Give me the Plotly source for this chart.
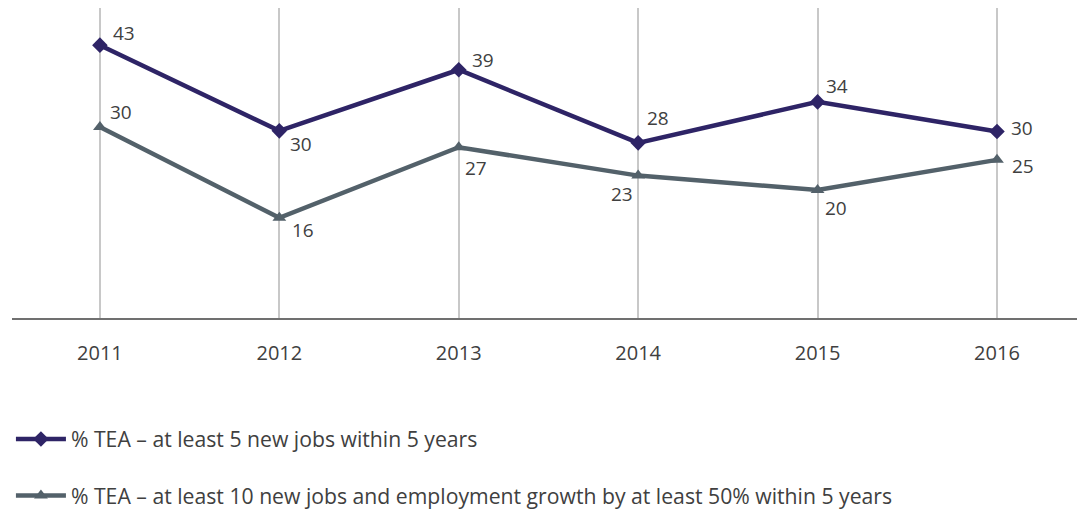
import plotly.graph_objects as go

years = ["2011", "2012", "2013", "2014", "2015", "2016"]
s1_name = "% TEA – at least 5 new jobs within 5 years"
s1_vals = [43.3, 29.7, 39.4, 27.8, 34.3, 29.6]
s2_name = "% TEA – at least 10 new jobs and employment growth by at least 50% within 5 years"
s2_vals = [30.3, 15.9, 27.1, 22.6, 20.3, 25.1]

# label offsets (pixels) relative to each point
s1_dx = [24, 22, 24, 20, 19, 25]
s1_dy = [12, -13, 10, 25, 16, 4]
s2_dx = [21, 24, 17, -16, 18, 26]
s2_dy = [15, -12, -21, -18, -18, -6]

c1 = "#2E2466"
c2 = "#53616A"
txt = "#404040"
font = "Open Sans"

fig = go.Figure()
fig.add_trace(go.Scatter(
    x=years, y=s1_vals, name=s1_name, mode="lines+markers",
    line=dict(color=c1, width=4.5), marker=dict(symbol="diamond", size=12, color=c1),
    legendgroup="a", cliponaxis=False,
))
fig.add_trace(go.Scatter(
    x=years, y=s2_vals, name=s2_name, mode="lines+markers",
    line=dict(color=c2, width=4.5), marker=dict(symbol="triangle-up", size=12, color=c2),
    legendgroup="b", cliponaxis=False,
))

for vals, dxs, dys in ((s1_vals, s1_dx, s1_dy), (s2_vals, s2_dx, s2_dy)):
    for i, (v, dx, dy) in enumerate(zip(vals, dxs, dys)):
        fig.add_annotation(x=i, y=v, xref="x", yref="y", text=str(round(v)),
                           showarrow=False, xshift=dx, yshift=dy,
                           font=dict(size=19, color=txt, family=font))

fig.update_layout(
    width=1077, height=517,
    margin=dict(l=12, r=0, t=8, b=199),
    plot_bgcolor="white", paper_bgcolor="white",
    font=dict(family=font, color=txt, size=16),
    legend=dict(x=-0.001, xanchor="left", y=-0.325, yanchor="top",
                traceorder="grouped", tracegroupgap=26,
                font=dict(size=21.2, color=txt, family=font), itemwidth=50),
    xaxis=dict(type="category", range=[-0.49, 5.446], showgrid=True,
               gridcolor="#C8C8C8", gridwidth=2, showline=True, linecolor="#707070",
               linewidth=2, ticks="", ticklabelstandoff=16,
               tickfont=dict(size=20, color=txt, family=font), zeroline=False),
    yaxis=dict(range=[0, 49.2], showgrid=False, showticklabels=False,
               zeroline=False, showline=False),
)

fig.write_html("out.html")
